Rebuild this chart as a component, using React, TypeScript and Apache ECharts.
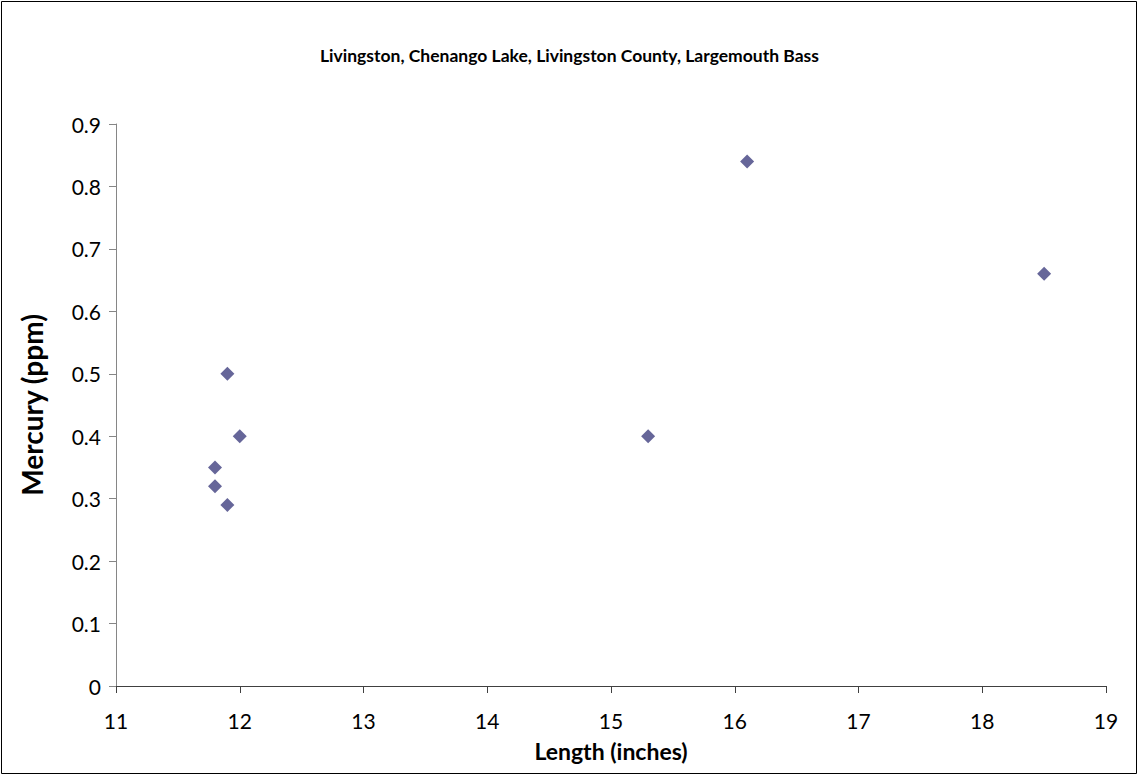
import React, { useEffect, useRef } from "react";
import * as echarts from "echarts";

const titleText = "Livingston, Chenango Lake, Livingston County, Largemouth Bass";
const lengthInches = [11.8, 11.8, 11.9, 11.9, 12.0, 15.3, 16.1, 18.5];
const mercuryPpm = [0.35, 0.32, 0.29, 0.5, 0.4, 0.4, 0.84, 0.66];
const xAxisName = "Length (inches)";
const yAxisName = "Mercury (ppm)";

const FONT = "Lato, 'Open Sans', sans-serif";

export default function App() {
  const ref = useRef<HTMLDivElement>(null);
  useEffect(() => {
    document.body.style.margin = "0";
    if (!ref.current) return;
    const chart = echarts.init(ref.current, undefined, { renderer: "svg" });
    const points = lengthInches.map((x, i) => [x, mercuryPpm[i]]);
    chart.setOption({
      animation: false,
      backgroundColor: "#ffffff",
      title: {
        text: titleText,
        left: "center",
        top: 41,
        textStyle: { fontFamily: FONT, fontSize: 17.5, fontWeight: "bold", color: "#000" },
      },
      grid: { left: 116, right: 33, top: 124, bottom: 90, containLabel: false },
      xAxis: {
        type: "value",
        min: 11,
        max: 19,
        interval: 1,
        name: xAxisName,
        nameLocation: "middle",
        nameGap: 53,
        nameTextStyle: { fontFamily: FONT, fontSize: 23, fontWeight: "bold", color: "#000" },
        splitLine: { show: false },
        axisLine: { lineStyle: { color: "#404040", width: 1 } },
        axisTick: { show: true, inside: false, length: 7, lineStyle: { color: "#404040" } },
        axisLabel: { margin: 24, fontFamily: FONT, fontSize: 21, color: "#000" },
      },
      yAxis: {
        type: "value",
        min: 0,
        max: 0.9,
        interval: 0.1,
        name: yAxisName,
        nameLocation: "middle",
        nameGap: 70,
        nameTextStyle: { fontFamily: FONT, fontSize: 28, fontWeight: "bold", color: "#000" },
        splitLine: { show: false },
        axisLine: { show: true, lineStyle: { color: "#868686", width: 1 } },
        axisTick: { show: true, inside: false, length: 7, lineStyle: { color: "#868686" } },
        axisLabel: {
          margin: 15,
          fontFamily: FONT,
          fontSize: 21,
          color: "#000",
          formatter: (v: number) => (Math.round(v * 10) / 10).toString(),
        },
      },
      series: [
        {
          type: "scatter",
          data: points,
          symbol: "diamond",
          symbolSize: 14,
          itemStyle: { color: "#666699", opacity: 1 },
        },
      ],
      graphic: [
        {
          type: "rect",
          shape: { x: 1.5, y: 1.5, width: 1135, height: 772 },
          style: { fill: "none", stroke: "#000", lineWidth: 1 },
          silent: true,
        },
      ],
    });
    return () => chart.dispose();
  }, []);
  return <div ref={ref} style={{ width: 1139, height: 776 }} />;
}
